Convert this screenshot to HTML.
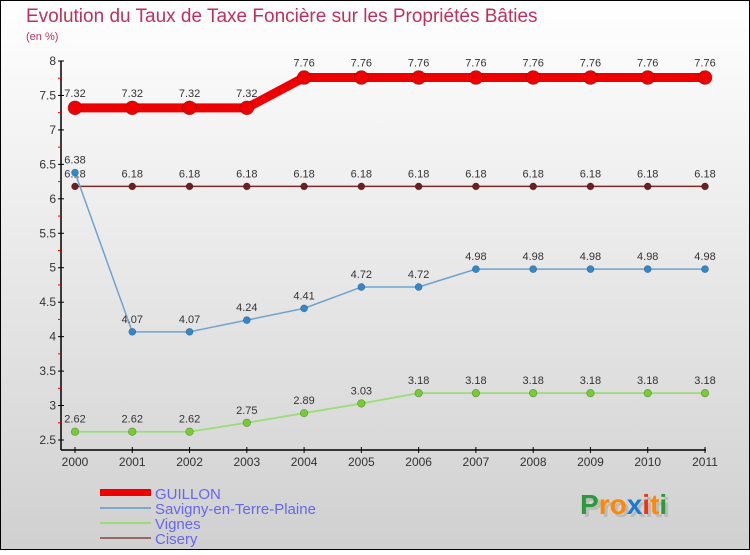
<!DOCTYPE html>
<html><head><meta charset="utf-8"><style>
body{margin:0;width:750px;height:550px;overflow:hidden;font-family:"Liberation Sans",sans-serif}
</style></head><body>
<svg id="c" width="750" height="550" xmlns="http://www.w3.org/2000/svg">
<defs><linearGradient id="bg" x1="0" y1="0" x2="0" y2="1"><stop offset="0" stop-color="#ffffff"/><stop offset="1" stop-color="#d0d0d0"/></linearGradient></defs>
<rect x="0.5" y="0.5" width="749" height="549" fill="url(#bg)" stroke="#000"/>
<text x="26" y="22" font-size="19" fill="#c0305a">Evolution du Taux de Taxe Foncière sur les Propriétés Bâties</text>
<text x="26" y="40" font-size="11" fill="#c0305a">(en %)</text>
<g id="axes"></g><g id="series"></g>
<g>
<rect x="100" y="489" width="51" height="7" fill="#ee0000"/>
<rect x="100" y="507" width="51" height="2" fill="#7fa8c8"/>
<rect x="100" y="522" width="51" height="2" fill="#99dd77"/>
<rect x="100" y="537" width="51" height="2" fill="#996666"/>
<text x="155" y="499" font-size="15" fill="#6666ee">GUILLON</text>
<text x="155" y="514" font-size="15" fill="#6666ee">Savigny-en-Terre-Plaine</text>
<text x="155" y="529" font-size="15" fill="#6666ee">Vignes</text>
<text x="155" y="544" font-size="15" fill="#6666ee">Cisery</text>
</g>
<g font-size="28" font-weight="bold">
<text x="583" y="517" fill="#bbb">P<tspan fill="#bbb">roxiti</tspan></text>
<text x="580" y="514"><tspan fill="#2a9a3a">P</tspan><tspan fill="#ff8800">ro</tspan><tspan fill="#1a7ad0">x</tspan><tspan fill="#ee3311">i</tspan><tspan fill="#ff8800">t</tspan><tspan fill="#2a9a3a">i</tspan></text>
</g>
</svg>
<script>
const years=["2000","2001","2002","2003","2004","2005","2006","2007","2008","2009","2010","2011"];
const guillon=[7.32,7.32,7.32,7.32,7.76,7.76,7.76,7.76,7.76,7.76,7.76,7.76];
const savigny=[6.38,4.07,4.07,4.24,4.41,4.72,4.72,4.98,4.98,4.98,4.98,4.98];
const vignes=[2.62,2.62,2.62,2.75,2.89,3.03,3.18,3.18,3.18,3.18,3.18,3.18];
const cisery=[6.18,6.18,6.18,6.18,6.18,6.18,6.18,6.18,6.18,6.18,6.18,6.18];
const yTicks=[2.5,3,3.5,4,4.5,5,5.5,6,6.5,7,7.5,8];
const NS="http://www.w3.org/2000/svg";
const X=i=>75+i*(705-75)/11;
const Y=v=>440-(v-2.5)*(440-61)/5.5;
function mk(t,a,p){const e=document.createElementNS(NS,t);for(const k in a)e.setAttribute(k,a[k]);p.appendChild(e);return e;}
const ax=document.getElementById('axes');
const ya=mk('line',{x1:61,y1:61,x2:61,y2:450,stroke:'#000','stroke-width':1.5},ax);


const xa=mk('line',{x1:61,y1:450,x2:706,y2:450,stroke:'#000','stroke-width':1.5},ax);


yTicks.forEach((v,i)=>{
  mk('line',{x1:58,y1:Y(v),x2:64,y2:Y(v),stroke:'#000'},ax);
  if(i<yTicks.length-1)mk('line',{x1:58,y1:Y(v+0.25),x2:61,y2:Y(v+0.25),stroke:'#e00'},ax);
  const t=mk('text',{x:56,y:Y(v)+4,'text-anchor':'end','font-size':12,fill:'#333'},ax);
  t.textContent=String(v);
  
  
});
years.forEach((y,i)=>{
  mk('line',{x1:X(i),y1:447,x2:X(i),y2:453,stroke:'#000'},ax);
  const t=mk('text',{x:X(i),y:466,'text-anchor':'middle','font-size':12,fill:'#333'},ax);
  t.textContent=y;
  
  
});
const sg=document.getElementById('series');
function series(data,name,color,lw,r,fill,labelDy){
  const g=mk('g',{},sg);
  
  
  const pl=mk('polyline',{points:data.map((v,i)=>X(i)+','+Y(v)).join(' '),fill:'none',stroke:color,'stroke-width':lw,'stroke-linejoin':'round'},g);
  
  
  data.forEach((v,i)=>{
    const c=mk('circle',{cx:X(i),cy:Y(v),r:r,fill:fill,stroke:'rgba(0,0,0,0.3)','stroke-width':0.7},g);
    
    
    const t=mk('text',{x:X(i),y:Y(v)+labelDy,'text-anchor':'middle','font-size':11,fill:'#333'},g);
    t.textContent=String(v).replace(/^(\d)\.(\d)$/,'$1.$20');
    
    
  });
}
series(cisery,'cisery','#7a2a2a',1.5,3.5,'#6b1f1f',-9);
series(vignes,'vignes','#99dd77',1.8,3.8,'#77cc33',-9);
series(savigny,'savigny','#6fa3cf',1.5,3.5,'#3388cc',-9);
series(guillon,'guillon','#ee0000',9,7,'#ee0000',-11);
</script>
</body></html>
